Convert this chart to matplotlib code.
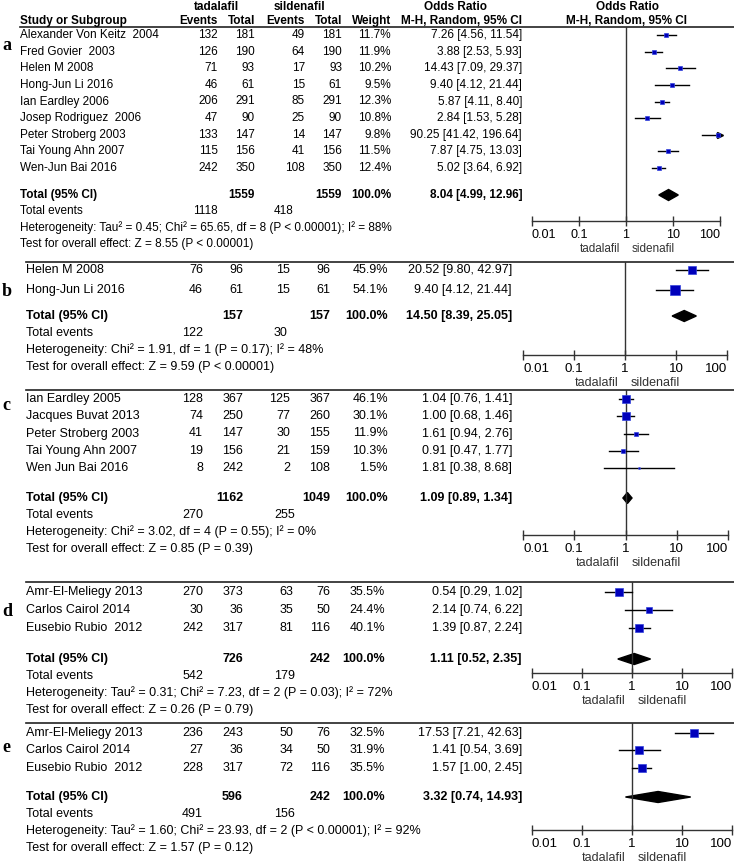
import numpy as np
import matplotlib.pyplot as plt

plt.rcParams['font.family'] = ['Liberation Sans', 'DejaVu Sans']

# ---- data ----
studies_a = ['Alexander Von Keitz  2004', 'Fred Govier  2003', 'Helen M 2008', 'Hong-Jun Li 2016',
             'Ian Eardley 2006', 'Josep Rodriguez  2006', 'Peter Stroberg 2003', 'Tai Young Ahn 2007',
             'Wen-Jun Bai 2016']
tad_ev_a = [132, 126, 71, 46, 206, 47, 133, 115, 242]
tad_n_a = [181, 190, 93, 61, 291, 90, 147, 156, 350]
sil_ev_a = [49, 64, 17, 15, 85, 25, 14, 41, 108]
sil_n_a = [181, 190, 93, 61, 291, 90, 147, 156, 350]
weight_a = [11.7, 11.9, 10.2, 9.5, 12.3, 10.8, 9.8, 11.5, 12.4]
or_a = [7.26, 3.88, 14.43, 9.40, 5.87, 2.84, 90.25, 7.87, 5.02]
lo_a = [4.56, 2.53, 7.09, 4.12, 4.11, 1.53, 41.42, 4.75, 3.64]
hi_a = [11.54, 5.93, 29.37, 21.44, 8.40, 5.28, 196.64, 13.03, 6.92]
total_a = [1559, 1559, 8.04, 4.99, 12.96]
events_a = [1118, 418]
het_a = 'Heterogeneity: Tau² = 0.45; Chi² = 65.65, df = 8 (P < 0.00001); I² = 88%'
test_a = 'Test for overall effect: Z = 8.55 (P < 0.00001)'

studies_b = ['Helen M 2008', 'Hong-Jun Li 2016']
tad_ev_b = [76, 46]
tad_n_b = [96, 61]
sil_ev_b = [15, 15]
sil_n_b = [96, 61]
weight_b = [45.9, 54.1]
or_b = [20.52, 9.40]
lo_b = [9.80, 4.12]
hi_b = [42.97, 21.44]
total_b = [157, 157, 14.50, 8.39, 25.05]
events_b = [122, 30]
het_b = 'Heterogeneity: Chi² = 1.91, df = 1 (P = 0.17); I² = 48%'
test_b = 'Test for overall effect: Z = 9.59 (P < 0.00001)'

studies_c = ['Ian Eardley 2005', 'Jacques Buvat 2013', 'Peter Stroberg 2003', 'Tai Young Ahn 2007',
             'Wen Jun Bai 2016']
tad_ev_c = [128, 74, 41, 19, 8]
tad_n_c = [367, 250, 147, 156, 242]
sil_ev_c = [125, 77, 30, 21, 2]
sil_n_c = [367, 260, 155, 159, 108]
weight_c = [46.1, 30.1, 11.9, 10.3, 1.5]
or_c = [1.04, 1.00, 1.61, 0.91, 1.81]
lo_c = [0.76, 0.68, 0.94, 0.47, 0.38]
hi_c = [1.41, 1.46, 2.76, 1.77, 8.68]
total_c = [1162, 1049, 1.09, 0.89, 1.34]
events_c = [270, 255]
het_c = 'Heterogeneity: Chi² = 3.02, df = 4 (P = 0.55); I² = 0%'
test_c = 'Test for overall effect: Z = 0.85 (P = 0.39)'

studies_d = ['Amr-El-Meliegy 2013', 'Carlos Cairol 2014', 'Eusebio Rubio  2012']
tad_ev_d = [270, 30, 242]
tad_n_d = [373, 36, 317]
sil_ev_d = [63, 35, 81]
sil_n_d = [76, 50, 116]
weight_d = [35.5, 24.4, 40.1]
or_d = [0.54, 2.14, 1.39]
lo_d = [0.29, 0.74, 0.87]
hi_d = [1.02, 6.22, 2.24]
total_d = [726, 242, 1.11, 0.52, 2.35]
events_d = [542, 179]
het_d = 'Heterogeneity: Tau² = 0.31; Chi² = 7.23, df = 2 (P = 0.03); I² = 72%'
test_d = 'Test for overall effect: Z = 0.26 (P = 0.79)'

studies_e = ['Amr-El-Meliegy 2013', 'Carlos Cairol 2014', 'Eusebio Rubio  2012']
tad_ev_e = [236, 27, 228]
tad_n_e = [243, 36, 317]
sil_ev_e = [50, 34, 72]
sil_n_e = [76, 50, 116]
weight_e = [32.5, 31.9, 35.5]
or_e = [17.53, 1.41, 1.57]
lo_e = [7.21, 0.54, 1.00]
hi_e = [42.63, 3.69, 2.45]
total_e = [596, 242, 3.32, 0.74, 14.93]
events_e = [491, 156]
het_e = 'Heterogeneity: Tau² = 1.60; Chi² = 23.93, df = 2 (P < 0.00001); I² = 92%'
test_e = 'Test for overall effect: Z = 1.57 (P = 0.12)'

ticks = [0.01, 0.1, 1, 10, 100]
tick_labels = ['0.01', '0.1', '1', '10', '100']

W, H = 734, 864
fig = plt.figure(figsize=(W / 100, H / 100), dpi=100)
bg = fig.add_axes([0, 0, 1, 1])
bg.set_xlim(0, W)
bg.set_ylim(H, 0)
bg.axis('off')

BLUE = '#0000bb'


def draw_panel(letter, letter_y, studies, tev, tn, sev, sn, wt, orv, lo, hi, total, events, het, test,
               rows_y, total_y, name_x, cols, ev_cols, px0, px1, top, axis_y, sep_y, right_label,
               fs=9.0, step=17):
    if sep_y is not None:
        bg.plot([name_x, W], [sep_y, sep_y], color='#222222', lw=1.2)
    bg.text(2, letter_y, letter, family='Liberation Serif', fontsize=13, fontweight='bold',
            va='center', ha='left')
    for i, s in enumerate(studies):
        y = rows_y[i]
        bg.text(name_x, y, s, fontsize=fs, va='center')
        vals = [str(tev[i]), str(tn[i]), str(sev[i]), str(sn[i]), f'{wt[i]:.1f}%',
                f'{orv[i]:.2f} [{lo[i]:.2f}, {hi[i]:.2f}]']
        for x, v in zip(cols, vals):
            bg.text(x, y, v, fontsize=fs, va='center', ha='right')
    bg.text(name_x, total_y, 'Total (95% CI)', fontsize=fs, va='center', fontweight='bold')
    tvals = [str(total[0]), str(total[1]), '100.0%', f'{total[2]:.2f} [{total[3]:.2f}, {total[4]:.2f}]']
    for x, v in zip([cols[1], cols[3], cols[4], cols[5]], tvals):
        bg.text(x, total_y, v, fontsize=fs, va='center', ha='right', fontweight='bold')
    bg.text(name_x, total_y + step, 'Total events', fontsize=fs, va='center')
    bg.text(ev_cols[0], total_y + step, str(events[0]), fontsize=fs, va='center', ha='right')
    bg.text(ev_cols[1], total_y + step, str(events[1]), fontsize=fs, va='center', ha='right')
    bg.text(name_x, total_y + 2 * step, het, fontsize=fs, va='center')
    bg.text(name_x, total_y + 3 * step, test, fontsize=fs, va='center')

    ax = fig.add_axes([px0 / W, 1 - axis_y / H, (px1 - px0) / W, (axis_y - top) / H])
    ax.set_xscale('log')
    ax.set_xlim(0.01, 100)
    ax.set_ylim(axis_y, top)
    ax.patch.set_alpha(0)
    for sp in ['top', 'left', 'right']:
        ax.spines[sp].set_visible(False)
    ax.spines['bottom'].set_color('#333333')
    ax.spines['bottom'].set_linewidth(1.0)
    ax.set_yticks([])
    ax.set_xticks(ticks)
    ax.set_xticklabels(tick_labels, fontsize=fs + 0.6)
    ax.minorticks_off()
    ax.tick_params(axis='x', direction='inout', length=7, width=1.0, color='#333333', pad=2)
    labs = ax.get_xticklabels()
    labs[0].set_ha('left')
    labs[-1].set_ha('right')
    ax.axvline(1, color='#333333', lw=1.0)
    for i in range(len(studies)):
        y = rows_y[i]
        h = min(hi[i], 100)
        ax.plot([lo[i], h], [y, y], color='black', lw=1.0, clip_on=False)
        if hi[i] > 100:
            ax.plot([100], [y], marker='>', color='black', ms=5, clip_on=False)
        side = 1.3 * np.sqrt(wt[i])
        ax.plot([orv[i]], [y], marker='s', ms=side * 0.72, color=BLUE, mec='#3344dd', mew=0.5,
                clip_on=False)
    lx = [total[3], total[2], total[4], total[2]]
    ly = [total_y, total_y - 5.5, total_y, total_y + 5.5]
    ax.fill(lx, ly, color='black')
    # direction labels under the axis
    x1 = px0 + (px1 - px0) * 0.5
    lab_y = axis_y + 28
    bg.text(x1 - 6, lab_y, 'tadalafil', fontsize=fs, ha='right', va='center', color='#333333')
    bg.text(x1 + 6, lab_y, right_label, fontsize=fs, ha='left', va='center', color='#333333')


# header for panel a
FA = 8.5
bg.text(216, 7, 'tadalafil', fontsize=FA, fontweight='bold', ha='center', va='center')
bg.text(299, 7, 'sildenafil', fontsize=FA, fontweight='bold', ha='center', va='center')
bg.text(456, 7, 'Odds Ratio', fontsize=FA, fontweight='bold', ha='center', va='center')
bg.text(627, 7, 'Odds Ratio', fontsize=FA, fontweight='bold', ha='center', va='center')
bg.text(20, 21, 'Study or Subgroup', fontsize=FA, fontweight='bold', va='center')
for x, t in zip([218, 255, 305, 342, 391], ['Events', 'Total', 'Events', 'Total', 'Weight']):
    bg.text(x, 21, t, fontsize=FA, fontweight='bold', ha='right', va='center')
bg.text(522, 21, 'M-H, Random, 95% CI', fontsize=FA, fontweight='bold', ha='right', va='center')
bg.text(627, 21, 'M-H, Random, 95% CI', fontsize=FA, fontweight='bold', ha='center', va='center')
bg.plot([20, W], [27, 27], color='#222222', lw=1.2)

cols_a = [218, 255, 305, 342, 391, 522]
cols_bc = [203, 243, 290, 330, 388, 512]
cols_de = [203, 243, 293, 330, 385, 522]

draw_panel('a', 45, studies_a, tad_ev_a, tad_n_a, sil_ev_a, sil_n_a, weight_a, or_a, lo_a, hi_a,
           total_a, events_a, het_a, test_a, np.linspace(35, 168, len(studies_a)), 195, 20,
           cols_a, [218, 293], 532, 720, 27, 221, None, 'sidenafil', fs=FA, step=16.5)
draw_panel('b', 291, studies_b, tad_ev_b, tad_n_b, sil_ev_b, sil_n_b, weight_b, or_b, lo_b, hi_b,
           total_b, events_b, het_b, test_b, [270, 290], 316, 26,
           cols_bc, [203, 287], 523, 727, 262, 355, 262, 'sildenafil')
draw_panel('c', 405, studies_c, tad_ev_c, tad_n_c, sil_ev_c, sil_n_c, weight_c, or_c, lo_c, hi_c,
           total_c, events_c, het_c, test_c, np.linspace(399, 468, len(studies_c)), 498, 26,
           cols_bc, [203, 295], 523, 728, 390, 535, 390, 'sildenafil')
draw_panel('d', 612, studies_d, tad_ev_d, tad_n_d, sil_ev_d, sil_n_d, weight_d, or_d, lo_d, hi_d,
           total_d, events_d, het_d, test_d, [592, 610, 628], 659, 26,
           cols_de, [203, 295], 532, 732, 582, 673, 582, 'sildenafil')
draw_panel('e', 748, studies_e, tad_ev_e, tad_n_e, sil_ev_e, sil_n_e, weight_e, or_e, lo_e, hi_e,
           total_e, events_e, het_e, test_e, [733, 750, 768], 797, 26,
           cols_de, [203, 295], 532, 732, 723, 830, 723, 'sildenafil')

fig.savefig('out.png', dpi=100)
